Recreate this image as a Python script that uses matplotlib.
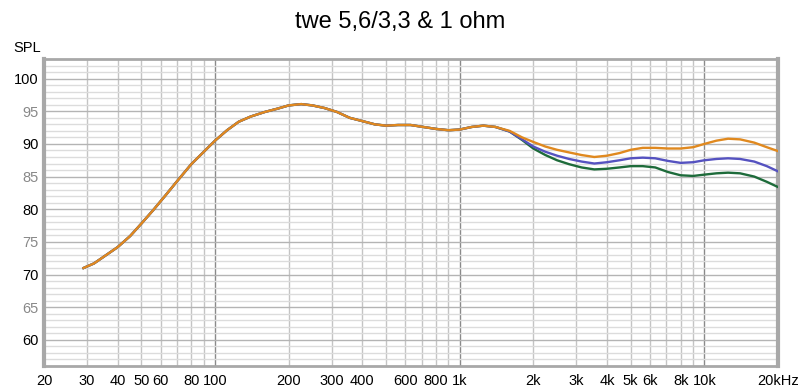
import matplotlib
matplotlib.use('Agg')
import matplotlib.pyplot as plt
from matplotlib.ticker import FixedLocator, NullFormatter

plt.rcParams['font.family'] = ['Liberation Sans', 'DejaVu Sans']

# frequencies (Hz)
freq = [29, 32, 35, 40, 45, 50, 56, 63, 70, 80, 90, 100, 112, 125, 140, 160,
        180, 200, 225, 250, 280, 315, 355, 400, 450, 500, 560, 630, 710, 800,
        900, 1000, 1120, 1250, 1400, 1600, 1800, 2000, 2240, 2500, 2800, 3150,
        3550, 4000, 4500, 5000, 5600, 6300, 7100, 8000, 9000, 10000, 11200,
        12500, 14000, 16000, 18000, 20000]

# shared low/mid part of the three curves
common = [71.0, 71.7, 72.7, 74.2, 75.9, 77.8, 79.9, 82.2, 84.3, 86.9, 88.8,
          90.5, 92.1, 93.4, 94.2, 94.9, 95.4, 95.9, 96.1, 95.9, 95.5, 94.9,
          94.0, 93.5, 93.0, 92.8, 92.9, 92.9, 92.6, 92.3, 92.1, 92.2, 92.6,
          92.8, 92.6]

orange_hi = [92.0, 91.0, 90.3, 89.6, 89.1, 88.7, 88.3, 88.0, 88.2, 88.6, 89.1,
             89.4, 89.4, 89.3, 89.3, 89.5, 90.0, 90.5, 90.8, 90.7, 90.2, 89.5,
             88.9]
blue_hi = [91.9, 90.7, 89.6, 88.8, 88.2, 87.7, 87.3, 87.0, 87.2, 87.5, 87.8,
           87.9, 87.8, 87.4, 87.1, 87.2, 87.5, 87.7, 87.8, 87.7, 87.3, 86.6,
           85.8]
green_hi = [91.9, 90.6, 89.3, 88.3, 87.5, 86.9, 86.4, 86.1, 86.2, 86.4, 86.6,
            86.6, 86.4, 85.7, 85.2, 85.1, 85.3, 85.5, 85.6, 85.5, 85.0, 84.2,
            83.4]

spl_orange = common + orange_hi
spl_blue = common + blue_hi
spl_green = common + green_hi

xtick_vals = [20, 30, 40, 50, 60, 80, 100, 200, 300, 400, 600, 800, 1000,
              2000, 3000, 4000, 5000, 6000, 8000, 10000, 20000]
xtick_labels = ['20', '30', '40', '50', '60', '80', '100', '200', '300', '400',
                '600', '800', '1k', '2k', '3k', '4k', '5k', '6k', '8k', '10k',
                '20kHz']
ytick_vals = [60, 65, 70, 75, 80, 85, 90, 95, 100]

fig = plt.figure(figsize=(8, 3.91), dpi=100)
ax = fig.add_axes([0.055, 0.064, 0.9175, 0.785])

ax.set_xscale('log')
ax.set_xlim(20, 20000)
ax.set_ylim(56, 103)

# grid
minor_x = [m * d for d in [10, 100, 1000, 10000] for m in range(2, 10)
           if 20 < m * d < 20000]
for f in minor_x:
    ax.axvline(f, color='#c4c4c4', lw=1, zorder=1)
for f in [100, 1000, 10000]:
    ax.axvline(f, color='#8a8a8a', lw=1, zorder=1)
for v in range(57, 103):
    ax.axhline(v, color='#b4b4b4' if v % 5 == 0 else '#dcdcdc', lw=1, zorder=1)

ax.plot(freq, spl_green, color='#1d6b3a', lw=1.7, zorder=3)
ax.plot(freq, spl_blue, color='#5552c0', lw=1.7, zorder=4)
ax.plot(freq, spl_orange, color='#e0891f', lw=1.7, zorder=5)

ax.xaxis.set_major_locator(FixedLocator(xtick_vals))
ax.xaxis.set_minor_formatter(NullFormatter())
ax.set_xticklabels(xtick_labels)
ax.set_yticks(ytick_vals)
ax.set_yticklabels([str(v) for v in ytick_vals])
for lbl, v in zip(ax.get_yticklabels(), ytick_vals):
    lbl.set_color('black' if v % 10 == 0 else '#888888')
ax.tick_params(axis='both', which='both', length=0, labelsize=10.5)
ax.tick_params(axis='x', pad=6)
ax.tick_params(axis='y', pad=4)

for s in ax.spines.values():
    s.set_color('#a8a8a8')
    s.set_linewidth(2)
ax.spines['left'].set_linewidth(3)
ax.spines['right'].set_linewidth(3)

fig.text(0.5, 0.944, 'twe 5,6/3,3 & 1 ohm', ha='center', va='center',
         fontsize=17)
fig.text(0.034, 0.877, 'SPL', ha='center', va='center', fontsize=10.5)

fig.savefig('out.png', dpi=100, facecolor='white')
